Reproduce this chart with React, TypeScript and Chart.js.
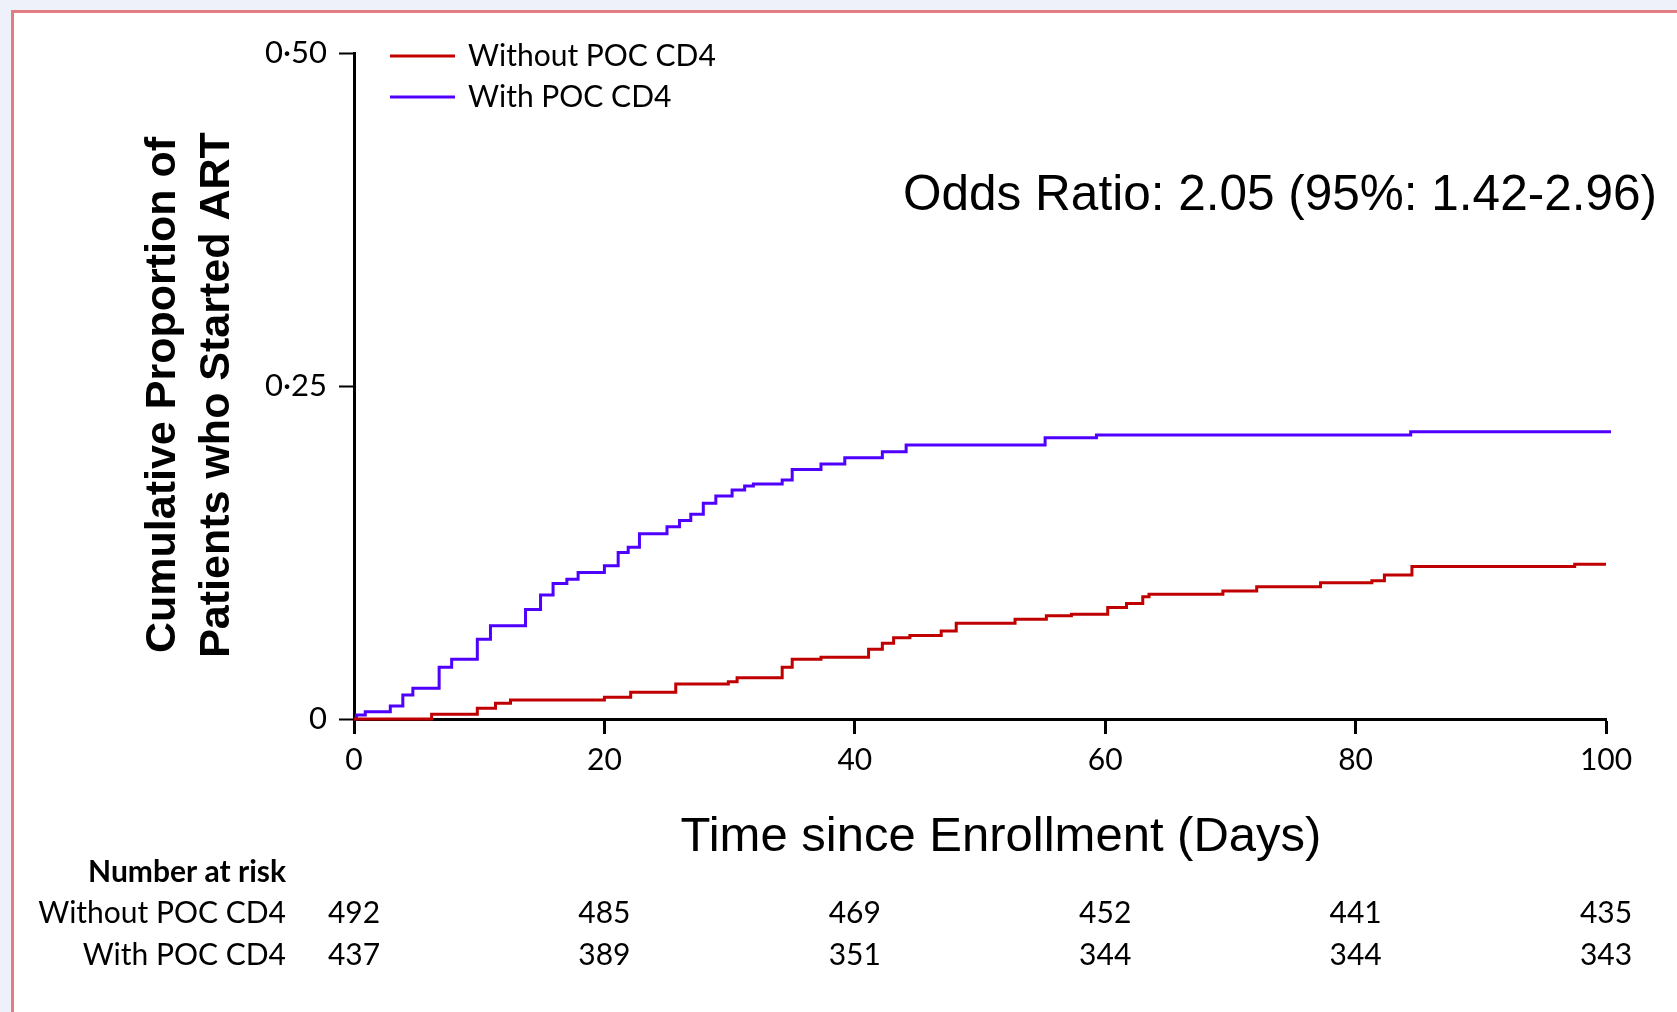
import React, { useEffect, useRef } from 'react';
import { Chart, registerables } from 'chart.js';

Chart.register(...registerables);

const seriesLabels = ['Without POC CD4', 'With POC CD4'];
const seriesColors = ['#c00000', '#5000ff'];

const withoutDays = [0, 6.2, 9.85, 11.3, 12.5, 20.0, 22.1, 25.7, 29.9, 30.6, 34.2, 35.0, 37.3, 41.1, 42.2, 43.1, 44.4, 46.9, 48.1, 52.8, 55.3, 57.3, 60.2, 61.7, 63.0, 63.5, 69.4, 72.1, 77.2, 81.3, 82.3, 84.5, 97.5, 100];
const withoutProp = [0, 0.0035, 0.008, 0.0118, 0.0143, 0.0163, 0.02, 0.0263, 0.028, 0.031, 0.0388, 0.0448, 0.0463, 0.0523, 0.0568, 0.061, 0.0626, 0.066, 0.0718, 0.0748, 0.0776, 0.0786, 0.0838, 0.0868, 0.0918, 0.0936, 0.0961, 0.0993, 0.1023, 0.1038, 0.1081, 0.1144, 0.1161, 0.1161];

const withDays = [0, 0.2, 0.9, 2.9, 3.9, 4.7, 6.8, 7.8, 9.85, 10.9, 13.7, 14.9, 15.9, 17.0, 17.9, 20.0, 21.1, 21.9, 22.8, 25.0, 26.0, 26.9, 27.9, 28.9, 30.2, 31.2, 31.9, 34.2, 35.0, 37.3, 39.2, 42.2, 44.1, 55.2, 59.3, 84.4, 100.4];
const withProp = [0, 0.003, 0.0055, 0.0098, 0.018, 0.023, 0.0388, 0.0448, 0.0598, 0.07, 0.0823, 0.093, 0.1018, 0.105, 0.11, 0.115, 0.125, 0.129, 0.139, 0.1444, 0.149, 0.1537, 0.162, 0.1674, 0.172, 0.175, 0.1764, 0.1794, 0.1874, 0.1914, 0.1962, 0.2007, 0.2057, 0.2112, 0.2132, 0.2157, 0.2157];

const yTickLabels = ['0', '0·25', '0·50'];
const riskDays = [0, 20, 40, 60, 80, 100];
const riskWithout = [492, 485, 469, 452, 441, 435];
const riskWith = [437, 389, 351, 344, 344, 343];
const riskHeader = 'Number at risk';
const yTitle = ['Cumulative Proportion of', 'Patients who Started ART'];
const xTitle = 'Time since Enrollment (Days)';
const oddsText = 'Odds Ratio: 2.05 (95%: 1.42-2.96)';

const W = 1677;
const H = 1012;
const SMALL_FONT = 'Lato';
const SMALL_SIZE = 30;
const BIG_FONT = '"Liberation Sans", Arial, sans-serif';

const toPoints = (xs: number[], ys: number[]) => xs.map((x, i) => ({ x, y: ys[i] }));

const extrasPlugin = {
  id: 'extras',
  afterDraw(chart: any) {
    const ctx = chart.ctx as CanvasRenderingContext2D;
    const xs = chart.scales.x;
    ctx.save();
    ctx.fillStyle = '#000';
    ctx.textBaseline = 'middle';

    // legend
    chart.data.datasets.forEach((ds: any, i: number) => {
      const y = 56 + i * 41;
      ctx.strokeStyle = ds.borderColor;
      ctx.lineWidth = 3;
      ctx.beginPath();
      ctx.moveTo(390, y);
      ctx.lineTo(455, y);
      ctx.stroke();
      ctx.font = `${SMALL_SIZE}px ${SMALL_FONT}`;
      ctx.textAlign = 'left';
      ctx.fillStyle = '#000';
      ctx.fillText(ds.label, 468, y);
    });

    // y title (two lines, rotated)
    ctx.save();
    ctx.translate(163, 395);
    ctx.rotate(-Math.PI / 2);
    ctx.font = `bold 43px ${BIG_FONT}`;
    ctx.textAlign = 'center';
    yTitle.forEach((line, i) => ctx.fillText(line, 0, i * 54));
    ctx.restore();

    // odds ratio
    ctx.font = `49.5px ${BIG_FONT}`;
    ctx.textAlign = 'center';
    ctx.fillText(oddsText, 1280, 196);

    // x title
    ctx.font = `49px ${BIG_FONT}`;
    ctx.fillText(xTitle, 1001, 837);

    // risk table
    ctx.textAlign = 'right';
    ctx.font = `bold ${SMALL_SIZE}px ${SMALL_FONT}`;
    ctx.fillText(riskHeader, 286, 872);
    ctx.font = `${SMALL_SIZE}px ${SMALL_FONT}`;
    ctx.fillText(seriesLabels[0], 286, 913);
    ctx.fillText(seriesLabels[1], 286, 955);
    ctx.textAlign = 'center';
    riskDays.forEach((d, i) => {
      const px = xs.getPixelForValue(d);
      ctx.fillText(String(riskWithout[i]), px, 913);
      ctx.fillText(String(riskWith[i]), px, 955);
    });
    ctx.restore();
  },
};

export default function App() {
  const ref = useRef<HTMLCanvasElement>(null);

  useEffect(() => {
    if (!ref.current) return;
    const chart = new Chart(ref.current, {
      type: 'line',
      data: {
        datasets: [
          {
            label: seriesLabels[0],
            data: toPoints(withoutDays, withoutProp),
            borderColor: seriesColors[0],
            backgroundColor: seriesColors[0],
            borderWidth: 3,
            pointRadius: 0,
            stepped: 'before',
            fill: false,
            clip: false as any,
          },
          {
            label: seriesLabels[1],
            data: toPoints(withDays, withProp),
            borderColor: seriesColors[1],
            backgroundColor: seriesColors[1],
            borderWidth: 3,
            pointRadius: 0,
            stepped: 'before',
            fill: false,
            clip: false as any,
          },
        ],
      },
      options: {
        animation: false,
        responsive: false,
        maintainAspectRatio: false,
        layout: { padding: { left: 136, top: 53, right: 71, bottom: 0 } },
        plugins: {
          legend: { display: false },
          tooltip: { enabled: false },
        },
        scales: {
          x: {
            type: 'linear',
            min: 0,
            max: 100,
            ticks: {
              stepSize: 20,
              color: '#000',
              padding: 8,
              font: { family: SMALL_FONT, size: SMALL_SIZE },
            },
            grid: {
              drawOnChartArea: false,
              drawTicks: true,
              tickLength: 15,
              tickWidth: 3,
              tickColor: '#000',
            },
            border: { display: true, color: '#000', width: 3 },
            afterFit: (axis: any) => {
              axis.height = 293;
            },
          },
          y: {
            type: 'linear',
            min: 0,
            max: 0.5,
            ticks: {
              stepSize: 0.25,
              color: '#000',
              padding: 12,
              font: { family: SMALL_FONT, size: 31 },
              callback: (_v: any, i: number) => yTickLabels[i],
            },
            grid: {
              drawOnChartArea: false,
              drawTicks: true,
              tickLength: 15,
              tickWidth: 2,
              tickColor: '#000',
            },
            border: { display: true, color: '#000', width: 3 },
            title: { display: false },
            afterFit: (axis: any) => {
              axis.width = 218;
            },
          },
        },
      } as any,
      plugins: [extrasPlugin],
    });
    return () => chart.destroy();
  }, []);

  return (
    <div style={{ position: 'fixed', left: 0, top: 0, width: W, height: H, background: '#eef1fa', overflow: 'hidden' }}>
      <div
        style={{
          position: 'absolute',
          left: 11,
          top: 10,
          right: 0,
          bottom: 0,
          background: '#fff',
          borderLeft: '3px solid #e27d84',
          borderTop: '3px solid #e27d84',
        }}
      />
      <canvas ref={ref} width={W} height={H} style={{ position: 'absolute', left: 0, top: 0, width: W, height: H }} />
    </div>
  );
}
